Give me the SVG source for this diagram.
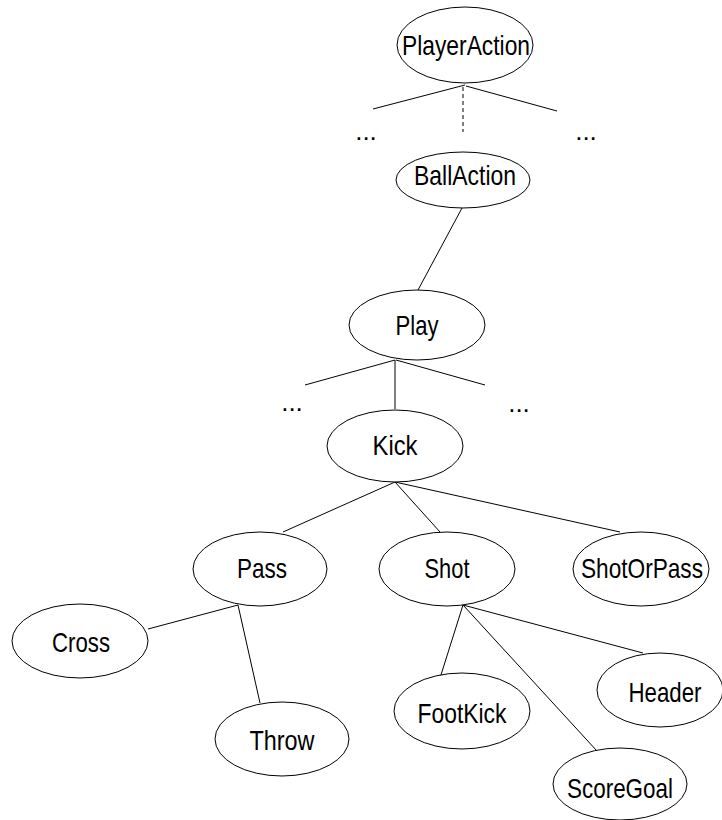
<svg xmlns="http://www.w3.org/2000/svg" width="722" height="820" viewBox="0 0 722 820">
  <style>
    .node ellipse { fill: #fff; stroke: #000; stroke-width: 1; }
    .node text, .dots { font-family: "Liberation Sans", Arial, sans-serif; font-size: 28px; fill: #000; text-anchor: middle; }
    .dots { font-size: 26px; }
    .edges line { stroke: #000; stroke-width: 1; }
    .edges line.dashed { stroke-dasharray: 4 3; }
  </style>
  <rect width="722" height="820" fill="#fff"/>

  <g id="edges" class="edges">
    <line x1="465" y1="85" x2="373" y2="109"/>
    <line x1="466" y1="86" x2="557" y2="111"/>
    <line class="dashed" x1="463" y1="87" x2="463" y2="132"/>
    <line x1="462" y1="208" x2="418" y2="290"/>
    <line x1="395" y1="360" x2="305" y2="385"/>
    <line x1="396" y1="360" x2="485" y2="385"/>
    <line x1="395" y1="360" x2="395" y2="409"/>
    <line x1="395" y1="482" x2="283" y2="532"/>
    <line x1="395" y1="482" x2="440" y2="532"/>
    <line x1="395" y1="482" x2="620" y2="532"/>
    <line x1="238" y1="605" x2="148" y2="629"/>
    <line x1="238" y1="605" x2="260" y2="703"/>
    <line x1="463" y1="605" x2="440" y2="678"/>
    <line x1="463" y1="605" x2="597" y2="751"/>
    <line x1="463" y1="605" x2="643" y2="653"/>
  </g>

  <text class="dots" x="366" y="140">...</text>
  <text class="dots" x="586" y="140">...</text>
  <text class="dots" x="292" y="411">...</text>
  <text class="dots" x="519" y="412">...</text>

  <g id="PlayerAction" class="node">
    <ellipse cx="465" cy="45" rx="68" ry="38"/>
    <text x="466" y="55" textLength="128" lengthAdjust="spacingAndGlyphs">PlayerAction</text>
  </g>
  <g id="BallAction" class="node">
    <ellipse cx="463" cy="180" rx="67" ry="28"/>
    <text x="465" y="185" textLength="102" lengthAdjust="spacingAndGlyphs">BallAction</text>
  </g>
  <g id="Play" class="node">
    <ellipse cx="417" cy="325" rx="68" ry="35"/>
    <text x="417" y="335" textLength="43" lengthAdjust="spacingAndGlyphs">Play</text>
  </g>
  <g id="Kick" class="node">
    <ellipse cx="395" cy="446" rx="68" ry="36"/>
    <text x="395" y="455" textLength="45" lengthAdjust="spacingAndGlyphs">Kick</text>
  </g>
  <g id="Pass" class="node">
    <ellipse cx="260" cy="569" rx="67" ry="37"/>
    <text x="262" y="578" textLength="50" lengthAdjust="spacingAndGlyphs">Pass</text>
  </g>
  <g id="Shot" class="node">
    <ellipse cx="447" cy="569" rx="68" ry="37"/>
    <text x="447" y="578" textLength="45" lengthAdjust="spacingAndGlyphs">Shot</text>
  </g>
  <g id="ShotOrPass" class="node">
    <ellipse cx="641" cy="569" rx="68" ry="37"/>
    <text x="642" y="578" textLength="122" lengthAdjust="spacingAndGlyphs">ShotOrPass</text>
  </g>
  <g id="Cross" class="node">
    <ellipse cx="80" cy="641" rx="68" ry="37"/>
    <text x="81" y="652" textLength="58" lengthAdjust="spacingAndGlyphs">Cross</text>
  </g>
  <g id="Throw" class="node">
    <ellipse cx="282" cy="739" rx="67" ry="37"/>
    <text x="282" y="750" textLength="65" lengthAdjust="spacingAndGlyphs">Throw</text>
  </g>
  <g id="FootKick" class="node">
    <ellipse cx="462" cy="711" rx="68" ry="38"/>
    <text x="462" y="723" textLength="89" lengthAdjust="spacingAndGlyphs">FootKick</text>
  </g>
  <g id="Header" class="node">
    <ellipse cx="660" cy="690" rx="63" ry="37"/>
    <text x="665" y="702" textLength="73" lengthAdjust="spacingAndGlyphs">Header</text>
  </g>
  <g id="ScoreGoal" class="node">
    <ellipse cx="620" cy="784" rx="67" ry="36"/>
    <text x="620" y="798" textLength="106" lengthAdjust="spacingAndGlyphs">ScoreGoal</text>
  </g>
</svg>
